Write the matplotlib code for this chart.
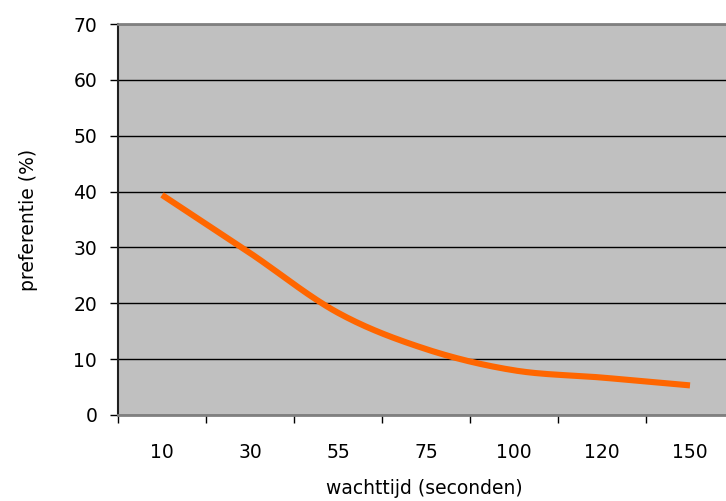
import matplotlib

matplotlib.use("Agg")

import matplotlib.pyplot as plt
import numpy as np


CATEGORIES = ["10", "30", "55", "75", "100", "120", "150"]
PREFERENCE = [39.4, 29.0, 18.3, 11.8, 8.0, 6.7, 5.3]

X_LABEL = "wachttijd (seconden)"
Y_LABEL = "preferentie (%)"


def smooth_curve(xs, ys, steps=30):
    """Catmull-Rom style smoothing, similar to a spreadsheet smoothed line."""

    xs = np.asarray(xs, dtype=float)
    ys = np.asarray(ys, dtype=float)
    px = np.concatenate([[xs[0]], xs, [xs[-1]]])
    py = np.concatenate([[ys[0]], ys, [ys[-1]]])
    out_x = []
    out_y = []
    for i in range(1, len(px) - 2):
        p0 = np.array([px[i - 1], py[i - 1]])
        p1 = np.array([px[i], py[i]])
        p2 = np.array([px[i + 1], py[i + 1]])
        p3 = np.array([px[i + 2], py[i + 2]])
        c1 = p1 + (p2 - p0) / 6.0
        c2 = p2 - (p3 - p1) / 6.0
        t = np.linspace(0, 1, steps)[:, None]
        pts = (
            (1 - t) ** 3 * p1
            + 3 * (1 - t) ** 2 * t * c1
            + 3 * (1 - t) * t ** 2 * c2
            + t ** 3 * p2
        )
        out_x.extend(pts[:, 0])
        out_y.extend(pts[:, 1])
    return np.array(out_x), np.array(out_y)


fig = plt.figure(figsize=(7.26, 5.01), dpi=100)
W, H = 726, 501
left, right, top, bottom = 118, 734, 24, 415
axis = fig.add_axes(
    [left / W, 1 - bottom / H, (right - left) / W, (bottom - top) / H]
)
axis.set_facecolor("#c0c0c0")

positions = np.arange(len(CATEGORIES))
sx, sy = smooth_curve(positions, PREFERENCE)
axis.plot(sx, sy, color="#ff6600", linewidth=4.4, solid_capstyle="butt", zorder=3)

axis.set_xlim(-0.5, len(CATEGORIES) - 0.5)
axis.set_ylim(0, 70)
axis.set_yticks(range(0, 71, 10))
axis.yaxis.grid(True, color="black", linewidth=1.0)
axis.set_axisbelow(True)

axis.set_xticks(positions)
axis.set_xticklabels(CATEGORIES)
axis.set_xticks(np.arange(-0.5, len(CATEGORIES), 1.0), minor=True)
axis.tick_params(axis="x", which="major", length=0, pad=20, labelsize=13.5)
axis.tick_params(axis="x", which="minor", length=6, width=1, color="black")
axis.tick_params(axis="y", length=6, width=1, pad=9, labelsize=13.5)

axis.spines["left"].set_color("#202020")
axis.spines["left"].set_linewidth(1.5)
axis.spines["bottom"].set_color("#808080")
axis.spines["bottom"].set_linewidth(2)
axis.spines["top"].set_color("#808080")
axis.spines["top"].set_linewidth(2)
axis.spines["right"].set_visible(False)

fig.text(424 / W, 1 - 489 / H, X_LABEL, ha="center", va="center", fontsize=13.5)
fig.text(
    28 / W, 1 - 220 / H, Y_LABEL, ha="center", va="center",
    rotation=90, fontsize=13.5,
)

fig.savefig("out.png", dpi=100)
